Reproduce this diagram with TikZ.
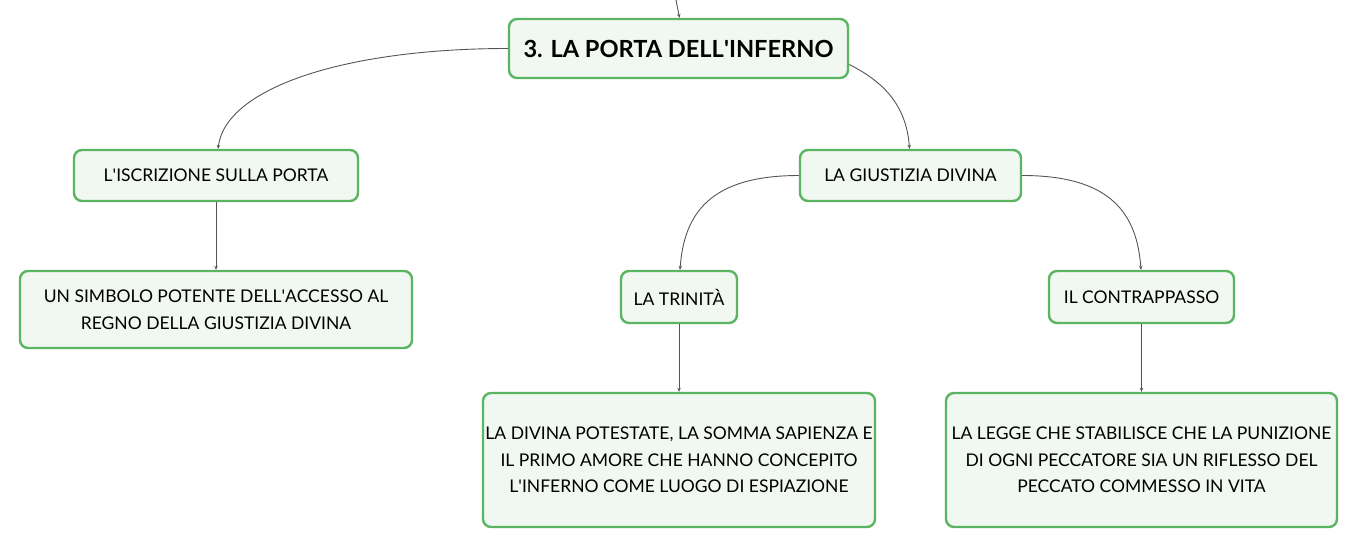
\documentclass[tikz,border=0pt]{standalone}
\usepackage{fontspec}
\setmainfont{Lato}
\usetikzlibrary{positioning, arrows.meta}

\definecolor{boxgreen}{HTML}{5BB462}
\definecolor{boxfill}{HTML}{F1F8F2}
\definecolor{linkgray}{HTML}{555555}
\newcommand{\ap}{\textquotesingle}

\tikzset{
  topic/.style={draw=boxgreen, fill=boxfill, line width=2.4pt, rounded corners=8pt,
    align=center, inner sep=0pt, font=\fontsize{17.5}{26.5}\selectfont},
  link/.style={draw=linkgray, line width=0.9pt, -{Stealth[length=4pt, width=3.5pt]}}
}

\begin{document}
\begin{tikzpicture}
  \useasboundingbox (0,0) rectangle (1359pt,-549pt);
  \coordinate (up) at (676pt,0pt);
  \node [topic, minimum width=339pt, minimum height=59pt,
         font=\fontsize{23.6}{28}\selectfont\bfseries] (root) at (678.5pt,-48.5pt) {3. LA PORTA DELL\ap INFERNO};
  \node [topic, below=69.6pt of root, xshift=-462.5pt, minimum width=284pt, minimum height=51pt] (iscr) {L\ap ISCRIZIONE SULLA PORTA};
  \node [topic, below=69.6pt of root, xshift=232pt, minimum width=221pt, minimum height=51pt] (giust) {LA GIUSTIZIA DIVINA};
  \node [topic, below=67.6pt of iscr, minimum width=392pt, minimum height=77pt] (simb) {UN SIMBOLO POTENTE DELL\ap ACCESSO AL\\REGNO DELLA GIUSTIZIA DIVINA};
  \node [topic, below=67.6pt of giust, xshift=-231.5pt, minimum width=116pt, minimum height=52pt] (trin) {LA TRINITÀ};
  \node [topic, below=67.6pt of giust, xshift=231pt, minimum width=185pt, minimum height=52pt] (contr) {IL CONTRAPPASSO};
  \node [topic, below=67.6pt of trin, minimum width=392pt, minimum height=134pt] (pot) {LA DIVINA POTESTATE, LA SOMMA SAPIENZA E\\IL PRIMO AMORE CHE HANNO CONCEPITO\\L\ap INFERNO COME LUOGO DI ESPIAZIONE};
  \node [topic, below=67.6pt of contr, minimum width=391pt, minimum height=134pt] (legge) {LA LEGGE CHE STABILISCE CHE LA PUNIZIONE\\DI OGNI PECCATORE SIA UN RIFLESSO DEL\\PECCATO COMMESSO IN VITA};

  \draw [link] (up) -- ([xshift=1pt]root.north);
  \draw [link] (root.west) .. controls +(-160pt,0pt) and +(8pt,62pt) .. ([xshift=2pt]iscr.north);
  \draw [link] ([yshift=-16pt]root.east) .. controls +(36pt,-18pt) and +(-3pt,42pt) .. ([xshift=-1pt]giust.north);
  \draw [link] (giust.west) .. controls +(-90pt,0pt) and +(4pt,55pt) .. ([xshift=1pt]trin.north);
  \draw [link] (giust.east) .. controls +(90pt,0pt) and +(-4pt,55pt) .. ([xshift=-0.5pt]contr.north);
  \draw [link] (iscr) -- (simb);
  \draw [link] (trin) -- (pot);
  \draw [link] (contr) -- (legge);
\end{tikzpicture}
\end{document}
